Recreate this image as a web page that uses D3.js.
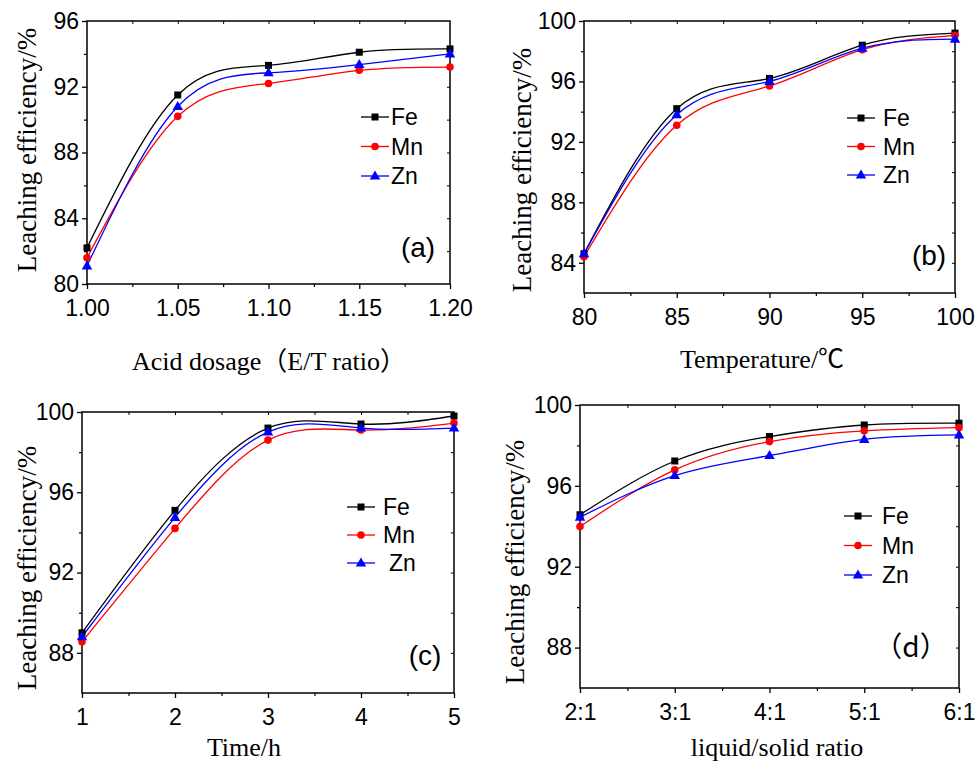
<!DOCTYPE html>
<html><head><meta charset="utf-8">
<script src="https://cdn.jsdelivr.net/npm/d3@7/dist/d3.min.js"></script>
<style>body{margin:0;background:#fff}svg{display:block}</style>
</head><body>
<svg id="c" width="976" height="763"></svg>
<script>
// ---- data ----
const seriesNames = ["Fe", "Mn", "Zn"];
const seriesColors = ["#000000", "#ff0000", "#0000ff"];

const aX = [1.00, 1.05, 1.10, 1.15, 1.20];
const aFe = [82.2, 91.5, 93.3, 94.1, 94.3];
const aMn = [81.6, 90.2, 92.2, 93.0, 93.2];
const aZn = [81.1, 90.8, 92.85, 93.35, 94.0];

const bX = [80, 85, 90, 95, 100];
const bFe = [84.6, 94.2, 96.2, 98.4, 99.2];
const bMn = [84.4, 93.1, 95.7, 98.1, 99.05];
const bZn = [84.6, 93.8, 96.0, 98.2, 98.8];

const cX = [1, 2, 3, 4, 5];
const cFe = [89.0, 95.1, 99.2, 99.4, 99.8];
const cMn = [88.55, 94.2, 98.6, 99.1, 99.45];
const cZn = [88.8, 94.75, 99.0, 99.2, 99.2];

const dLabels = ["2:1", "3:1", "4:1", "5:1", "6:1"];
const dFe = [94.57, 97.23, 98.44, 99.01, 99.1];
const dMn = [93.99, 96.79, 98.19, 98.72, 98.88];
const dZn = [94.45, 96.51, 97.5, 98.3, 98.52];

const aYTicks = [80, 84, 88, 92, 96];
const bYTicks = [84, 88, 92, 96, 100];
const cYTicks = [88, 92, 96, 100];
const dYTicks = [88, 92, 96, 100];

const xTitles = ["Acid dosage（E/T  ratio）", "Temperature/℃", "Time/h", "liquid/solid ratio"];
const yTitle = "Leaching efficiency/%";
const panelLabels = ["(a)", "(b)", "(c)", "（d）"];

// ---- layout ----
const svg = d3.select("#c");
const sansF = "'Liberation Sans', Arial, sans-serif";
const serifF = "'Liberation Serif', 'Times New Roman', serif";

const panels = [
  {x0:87,x1:450,y0:21,y1:284, xd:[1.00,1.20], yd:[80,96], xs:aX, xt:aX, xfmt:d3.format(".2f"), yt:aYTicks,
   data:[aFe,aMn,aZn], leg:{x:361,y:117,tx:391,dy:29.5}, lab:{x:418,y:257},
   xTitle:{x:269,y:370}, yTitleP:{x:27,y:150}},
  {x0:584,x1:955,y0:21,y1:293, xd:[80,100], yd:[82,100], xs:bX, xt:bX, xfmt:d3.format("d"), yt:bYTicks,
   data:[bFe,bMn,bZn], leg:{x:847,y:118,tx:883,dy:28.5}, lab:{x:929,y:265},
   xTitle:{x:762,y:368}, yTitleP:{x:522,y:170}},
  {x0:82,x1:454,y0:412,y1:693, xd:[1,5], yd:[86,100], xs:cX, xt:cX, xfmt:d3.format("d"), yt:cYTicks,
   data:[cFe,cMn,cZn], leg:{x:347,y:507,tx:383,dy:28}, lab:{x:425,y:665},
   xTitle:{x:244,y:756}, yTitleP:{x:27,y:568}},
  {x0:580,x1:959,y0:405,y1:688, xd:[0,4], yd:[86,100], xs:[0,1,2,3,4], xt:[0,1,2,3,4], xfmt:i=>dLabels[i], yt:dYTicks,
   data:[dFe,dMn,dZn], leg:{x:844,y:516,tx:882,dy:29.5}, lab:{x:911,y:657},
   xTitle:{x:777,y:756}, yTitleP:{x:515,y:562}}
];

function marker(g, i, x, y, col) {
  if (i === 0) {
    g.append("rect").attr("x", x-3.5).attr("y", y-3.5).attr("width", 7).attr("height", 7).attr("fill", col);
  } else if (i === 1) {
    g.append("circle").attr("cx", x).attr("cy", y).attr("r", 3.8).attr("fill", col);
  } else {
    g.append("path").attr("d", d3.symbol().type(d3.symbolTriangle).size(48)()).attr("transform", `translate(${x},${y+0.5})`).attr("fill", col);
  }
}

panels.forEach((p, pi) => {
  const x = d3.scaleLinear().domain(p.xd).range([p.x0, p.x1]);
  const y = d3.scaleLinear().domain(p.yd).range([p.y1, p.y0]);
  const g = svg.append("g");

  const xStep = p.xt[1] - p.xt[0];
  const xMinor = p.xt.slice(0, -1).map(v => v + xStep/2);
  const yMinor = d3.range(p.yd[0], p.yd[1] + 0.001, 2).filter(v => !p.yt.includes(v) && v > p.yd[0]);

  // bottom axis
  const bx = g.append("g").attr("transform", `translate(0,${p.y1})`)
    .call(d3.axisBottom(x).tickValues(p.xt).tickFormat(p.xfmt).tickSize(5));
  bx.select(".domain").remove();
  bx.selectAll("text").attr("font-family", sansF).attr("font-size", 23).attr("fill", "#000")
    .attr("y", 32).attr("dy", 0);
  bx.selectAll("line").attr("stroke-width", 1.3);
  const bxm = g.append("g").attr("transform", `translate(0,${p.y1})`)
    .call(d3.axisBottom(x).tickValues(xMinor).tickFormat("").tickSize(3));
  bxm.select(".domain").remove();
  bxm.selectAll("line").attr("stroke-width", 1.2);

  // left axis
  const ly = g.append("g").attr("transform", `translate(${p.x0},0)`)
    .call(d3.axisLeft(y).tickValues(p.yt).tickFormat(d3.format("d")).tickSize(5).tickPadding(3));
  ly.select(".domain").remove();
  ly.selectAll("text").attr("font-family", sansF).attr("font-size", 23).attr("fill", "#000");
  ly.selectAll("line").attr("stroke-width", 1.3);
  const lym = g.append("g").attr("transform", `translate(${p.x0},0)`)
    .call(d3.axisLeft(y).tickValues(yMinor).tickFormat("").tickSize(3));
  lym.select(".domain").remove();
  lym.selectAll("line").attr("stroke-width", 1.2);

  // top / right mirror ticks (inward)
  const tx = g.append("g").attr("transform", `translate(0,${p.y0})`)
    .call(d3.axisBottom(x).tickValues(p.xt.concat(xMinor).filter(v => v > p.xd[0] && v < p.xd[1])).tickFormat("").tickSize(3));
  tx.select(".domain").remove();
  const ry = g.append("g").attr("transform", `translate(${p.x1},0)`)
    .call(d3.axisLeft(y).tickValues(p.yt.concat(yMinor).filter(v => v > p.yd[0] && v < p.yd[1])).tickFormat("").tickSize(3));
  ry.select(".domain").remove();

  // frame
  g.append("rect").attr("x", p.x0).attr("y", p.y0).attr("width", p.x1 - p.x0).attr("height", p.y1 - p.y0)
    .attr("fill", "none").attr("stroke", "#000").attr("stroke-width", 1.5);

  // series
  const line = d3.line().curve(d3.curveNatural).x(d => x(d[0])).y(d => y(d[1]));
  p.data.forEach((vals, si) => {
    const pts = p.xs.map((xv, k) => [xv, vals[k]]);
    g.append("path").attr("d", line(pts)).attr("fill", "none").attr("stroke", seriesColors[si]).attr("stroke-width", 1.3);
  });
  p.data.forEach((vals, si) => {
    p.xs.forEach((xv, k) => marker(g, si, x(xv), y(vals[k]), seriesColors[si]));
  });

  // legend
  seriesNames.forEach((n, si) => {
    const ly0 = p.leg.y + si * p.leg.dy;
    g.append("line").attr("x1", p.leg.x).attr("x2", p.leg.x + 28).attr("y1", ly0).attr("y2", ly0)
      .attr("stroke", seriesColors[si]).attr("stroke-width", 1.3);
    marker(g, si, p.leg.x + 14, ly0, seriesColors[si]);
    g.append("text").attr("x", p.leg.tx + (pi === 2 && si === 2 ? 6 : 0)).attr("y", ly0).attr("dy", "0.36em")
      .attr("font-family", sansF).attr("font-size", 23).text(n);
  });

  // panel label
  g.append("text").attr("x", p.lab.x).attr("y", p.lab.y).attr("text-anchor", "middle")
    .attr("font-family", pi === 3 ? "'Noto Sans CJK SC', " + sansF : sansF).attr("font-size", 28).text(panelLabels[pi]);

  // titles
  g.append("text").attr("x", p.xTitle.x).attr("y", p.xTitle.y).attr("text-anchor", "middle")
    .attr("font-family", serifF + ", 'Noto Sans CJK SC'").attr("font-size", 26).text(xTitles[pi]);
  g.append("text").attr("transform", `translate(${p.yTitleP.x},${p.yTitleP.y}) rotate(-90)`)
    .attr("text-anchor", "middle").attr("dy", "0.35em")
    .attr("font-family", serifF).attr("font-size", 27).text(yTitle);
});
</script>
</body></html>
